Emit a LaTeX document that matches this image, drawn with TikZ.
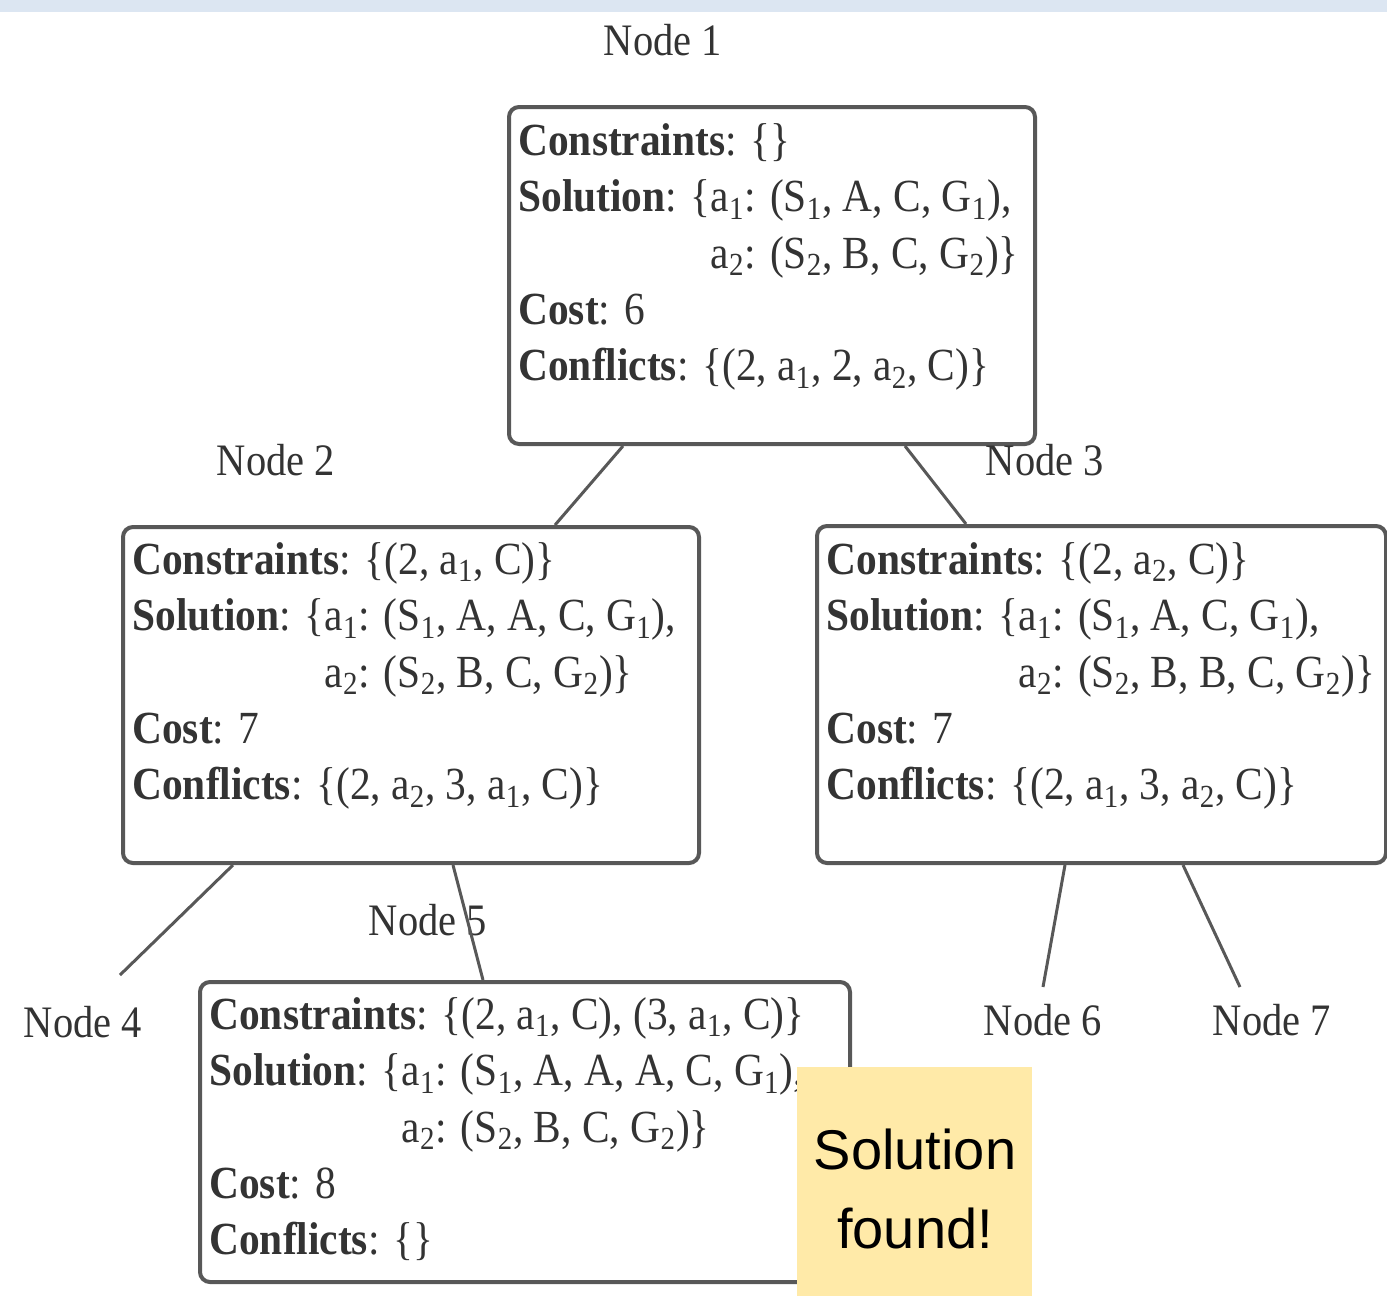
\documentclass[tikz,border=0pt]{standalone}
\usepackage{fontspec}
\setmainfont{Liberation Serif}[FakeStretch=0.9]
\newfontfamily\notefont{Liberation Sans}

\definecolor{boxgray}{RGB}{88,88,88}
\definecolor{textgray}{RGB}{51,51,51}
\definecolor{stripblue}{RGB}{220,230,242}
\definecolor{noteyellow}{RGB}{255,234,168}

\newcommand{\sbs}[1]{\textsubscript{#1}}
\newcommand{\indsol}{\hphantom{\textbf{Solution}: \{}}

\tikzset{
  cbsbox/.style={draw=boxgray, line width=2pt, rounded corners=5pt, inner sep=0pt, anchor=north west},
  cbstext/.style={anchor=north west, inner sep=0pt, align=left, text=textgray, font=\fontsize{23}{28.2}\selectfont},
  nodelabel/.style={inner sep=0pt, text=textgray, font=\fontsize{22.5}{27}\selectfont},
  branch/.style={draw=boxgray, line width=1.5pt},
  notebox/.style={fill=noteyellow, inner sep=0pt, anchor=north west},
  notetext/.style={inner sep=0pt, align=center, font=\notefont\fontsize{28}{39.5}\selectfont},
}

\begin{document}
\begin{tikzpicture}[x=0.5pt,y=0.5pt,yscale=-1]
\useasboundingbox (0,0) rectangle (1387,1297);

% strip along the top
\fill[stripblue] (0,0) rectangle (1387,12);

% Node 1
\node[cbsbox, minimum width=263pt, minimum height=168.5pt] (n1) at (507,105) {};
\node[cbstext] (t1) at (518,123) {\textbf{Constraints}: \{\}\\
  \textbf{Solution}: \{a\sbs{1}: (S\sbs{1}, A, C, G\sbs{1}),\\
  \indsol a\sbs{2}: (S\sbs{2}, B, C, G\sbs{2})\}\\
  \textbf{Cost}: 6\\
  \textbf{Conflicts}: \{(2, a\sbs{1}, 2, a\sbs{2}, C)\}};

% Node 2
\node[cbsbox, minimum width=288pt, minimum height=168pt] (n2) at (121,525) {};
\node[cbstext] (t2) at (132,542) {\textbf{Constraints}: \{(2, a\sbs{1}, C)\}\\
  \textbf{Solution}: \{a\sbs{1}: (S\sbs{1}, A, A, C, G\sbs{1}),\\
  \indsol a\sbs{2}: (S\sbs{2}, B, C, G\sbs{2})\}\\
  \textbf{Cost}: 7\\
  \textbf{Conflicts}: \{(2, a\sbs{2}, 3, a\sbs{1}, C)\}};

% Node 3
\node[cbsbox, minimum width=284.5pt, minimum height=168.5pt] (n3) at (815,524) {};
\node[cbstext] (t3) at (826,542) {\textbf{Constraints}: \{(2, a\sbs{2}, C)\}\\
  \textbf{Solution}: \{a\sbs{1}: (S\sbs{1}, A, C, G\sbs{1}),\\
  \indsol a\sbs{2}: (S\sbs{2}, B, B, C, G\sbs{2})\}\\
  \textbf{Cost}: 7\\
  \textbf{Conflicts}: \{(2, a\sbs{1}, 3, a\sbs{2}, C)\}};

% Node 5
\node[cbsbox, minimum width=325pt, minimum height=150pt] (n5) at (198,980) {};
\node[cbstext] (t5) at (209,997) {\textbf{Constraints}: \{(2, a\sbs{1}, C), (3, a\sbs{1}, C)\}\\
  \textbf{Solution}: \{a\sbs{1}: (S\sbs{1}, A, A, A, C, G\sbs{1}),\\
  \indsol a\sbs{2}: (S\sbs{2}, B, C, G\sbs{2})\}\\
  \textbf{Cost}: 8\\
  \textbf{Conflicts}: \{\}};

% note
\node[notebox, minimum width=117.5pt, minimum height=114.5pt] (sol) at (797,1067) {};
\node[notetext] (soltext) at (915,1189) {Solution\\found!};

% labels
\node[nodelabel] (l1) at (663,40) {Node 1};
\node[nodelabel] (l2) at (276,460) {Node 2};
\node[nodelabel] (l3) at (1045,460) {Node 3};
\node[nodelabel] (l4) at (83,1022) {Node 4};
\node[nodelabel] (l5) at (428,920) {Node 5};
\node[nodelabel] (l6) at (1043,1020) {Node 6};
\node[nodelabel] (l7) at (1272,1020) {Node 7};

% free ends above the unexpanded nodes
\coordinate (c4) at (120,975);
\coordinate (c6) at (1043,987);
\coordinate (c7) at (1240,987);

% branches
\draw[branch] ([xshift=58pt]n1.south west) -- ([xshift=217pt]n2.north west);
\draw[branch] ([xshift=199pt]n1.south west) -- ([xshift=75.5pt]n3.north west);
\draw[branch] ([xshift=56pt]n2.south west) -- (c4);
\draw[branch] ([xshift=166pt]n2.south west) -- ([xshift=142.5pt]n5.north west);
\draw[branch] ([xshift=125pt]n3.south west) -- (c6);
\draw[branch] ([xshift=184pt]n3.south west) -- (c7);

\end{tikzpicture}
\end{document}
